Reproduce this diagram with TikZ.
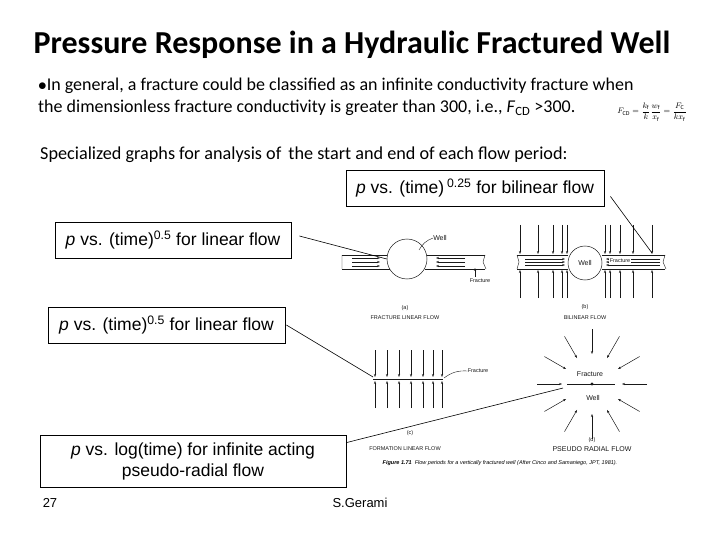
\documentclass[tikz,border=0pt]{standalone}
\usepackage{fontspec}
\setmainfont{Carlito}
\newfontfamily\arial{Liberation Sans}
\usetikzlibrary{arrows.meta,calc}
\begin{document}
\begin{tikzpicture}[x=1pt,y=-1pt,
  lbl/.style={draw,line width=0.8pt,font=\arial\fontsize{17.5}{21}\selectfont,inner sep=0pt,align=center},
  conn/.style={line width=0.6pt},
  fl/.style={line width=0.5pt,-{Stealth[length=3pt,width=2.2pt]},gray!20!black},
  tiny/.style={font=\arial\fontsize{5.5}{6}\selectfont,inner sep=0pt,gray!20!black},
  sm/.style={font=\arial\fontsize{7}{8}\selectfont,inner sep=0pt,gray!20!black}]
\useasboundingbox (0,0) rectangle (720,540);
\fill[white] (0,0) rectangle (720,540);
\node (title) at (352,45) {\fontsize{32}{38}\selectfont\bfseries Pressure Response in a Hydraulic Fractured Well};
\node[anchor=west,inner sep=0pt] (b1) at (38,86) {\fontsize{18}{21}\selectfont $\bullet$In general, a fracture could be classified as an infinite conductivity fracture when};
\node[anchor=west,inner sep=0pt] (b2) at (38,108) {\fontsize{18}{21}\selectfont the dimensionless fracture conductivity is greater than 300, i.e., \textit{F}\textsubscript{CD} \textgreater300.};
\node[inner sep=0pt] (formula) at (652,112) {\fontsize{8.5}{10}\selectfont $F_{\rm CD}=\displaystyle\frac{k_{\rm f}}{k}\frac{w_{\rm f}}{x_{\rm f}}=\frac{F_{\rm C}}{k x_{\rm f}}$};
\node[anchor=west,inner sep=0pt] (spec) at (40,155) {\fontsize{18.2}{21}\selectfont Specialized graphs for analysis of\, the start and end of each flow period:};
% boxes
\node[lbl,minimum width=258pt,minimum height=36pt] (box1) at (475,188) {\textit{p} vs. (time)\,\textsuperscript{0.25} for bilinear flow};
\node[lbl,minimum width=236pt,minimum height=36pt] (box2) at (173,240) {\textit{p} vs. (time)\textsuperscript{0.5} for linear flow};
\node[lbl,minimum width=237pt,minimum height=36pt] (box3) at (166.5,325) {\textit{p} vs. (time)\textsuperscript{0.5} for linear flow};
\node[lbl,minimum width=306pt,minimum height=52pt] (box4) at (193,461) {\textit{p} vs. log(time) for infinite acting\\pseudo-radial flow};
\node[font=\arial\fontsize{13}{15}\selectfont] (pg) at (50,503) {27};
\node[font=\arial\fontsize{13}{15}\selectfont] (au) at (360,503) {S.Gerami};
% (a)
\draw[gray!20!black,line width=0.5pt] (342,255) -- (390,255) (342,269) -- (390,269) (425,255) -- (485,255) (425,269) -- (485,269);
\draw[gray!20!black,line width=0.4pt] (342,255) -- (342,269) (485,255) -- (483,262) -- (486,269);
\node[draw=gray!20!black,fill=white,circle,minimum size=40pt,inner sep=0pt,line width=0.5pt] (wa) at (407,259) {};
\foreach \y in {258,262,266}{\draw[fl] (352,\y) -- (380,\y); \draw[fl] (465,\y) -- (436,\y);}
\node[sm] (wla) at (440,238) {Well};
\draw[gray!20!black,line width=0.4pt] (wla.west) to[bend right=20] (419,250);
\node[tiny] (fra) at (480,281) {Fracture};
\draw[fl] (475,277) -- (475,268);
\node[tiny] (la) at (405,308) {(a)};
\node[tiny] (ta) at (405,318) {FRACTURE LINEAR FLOW};
% (b)
\draw[gray!20!black,line width=0.5pt] (517,255) -- (568,255) (517,269) -- (568,269) (602,255) -- (665,255) (602,269) -- (665,269);
\draw[gray!20!black,line width=0.4pt] (517,255) -- (519,262) -- (517,269) (665,255) -- (663,262) -- (666,269);
\node[draw=gray!20!black,fill=white,circle,minimum size=34pt,inner sep=0pt,line width=0.5pt] (wb) at (585,263) {};
\node[sm] at (wb) {Well};
\foreach \x in {520,538,553,562,567,605,610,620,633,652}{\draw[fl] (\x,225) -- (\x,254); \draw[fl] (\x,298) -- (\x,270);}
\foreach \y in {259,262,265}{\draw[fl] (525,\y) -- (565,\y); \draw[fl] (660,\y) -- (606,\y);}
\node[tiny,fill=white,inner sep=0.5pt] (frb) at (620,261) {Fracture};
\node[tiny] (lb) at (585,307) {(b)};
\node[tiny] (tb) at (585,318) {BILINEAR FLOW};
% (c)
\draw[gray!20!black,line width=0.7pt] (373,379) -- (443,379);
\foreach \x in {375,387,399,411,423,433,442}{\draw[fl] (\x,350) -- (\x,377); \draw[fl] (\x,408) -- (\x,381);}
\node[tiny] (frc) at (478,371) {Fracture};
\draw[gray!20!black,line width=0.4pt] (frc.west) to[bend right=20] (444,378);
\node[tiny] (lc) at (410,433) {(c)};
\node[tiny] (tc) at (405,449) {FORMATION LINEAR FLOW};
% (d)
\coordinate (dc) at (592,384);
\draw[gray!20!black,line width=0.7pt] (567,384) -- (615,384);
\fill[gray!20!black] (dc) circle (1.6pt);
\foreach \a in {0,30,...,330}{\draw[fl] ($(dc)+(\a:55)$) -- ($(dc)+(\a:30)$);}
\node[sm] (frd) at (590,374) {Fracture};
\node[sm] (wd) at (593,398) {Well};
\node[tiny] (ld) at (592,440) {(d)};
\node[sm] (td) at (592,449) {PSEUDO RADIAL FLOW};
\node[font=\arial\fontsize{5.5}{6}\selectfont\itshape,inner sep=0pt] (cap) at (500,463) {\textbf{Figure 1.71}\ \ Flow periods for a vertically fractured well (After Cinco and Samaniego, JPT, 1981).};
% connectors
\coordinate (tb1) at (652,253);
\draw[conn] ([xshift=-2pt]box1.south east) ++(8,-10) -- (tb1);
\draw[conn] (box2.east) ++(8,-4) -- (wa.west);
\draw[conn] (box3.east) ++(1,0) -- (373,377);
\draw[conn] ([yshift=-8pt]box4.north east) -- (563,388);
\end{tikzpicture}
\end{document}
